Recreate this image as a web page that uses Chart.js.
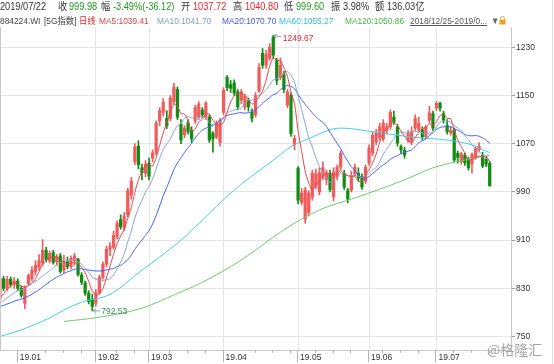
<!DOCTYPE html>
<html>
<head>
<meta charset="utf-8">
<script src="https://cdn.jsdelivr.net/npm/chart.js@4.4.1/dist/chart.umd.min.js"></script>
<style>
  body { margin: 0; background: #fff; }
  #box { position: relative; width: 554px; height: 364px; overflow: hidden; font-family: "Liberation Sans", Arial, "Noto Sans CJK SC", sans-serif; }
  #box canvas { position: absolute; left: 0; top: 0; }
  .h { position: absolute; white-space: nowrap; transform-origin: 0 0; }
  .a { top: 1px; font-size: 10px; line-height: 12px; color: #333; transform: scaleX(.92); }
  .b { top: 15px; font-size: 9.5px; line-height: 11px; color: #444; transform: scaleX(.88); }
  .r { color: #e3262f; }
  .g { color: #1f9a1f; }
  #mark { position: absolute; left: 487px; top: 341px; font-size: 14px; line-height: 16px; color: #a6a6a6; font-family: "Noto Sans CJK SC", sans-serif; }
  #edge { position: absolute; left: 552px; top: 0; width: 1px; height: 364px; background: #dcdcdc; }
</style>
</head>
<body>
<div id="box">
  <canvas id="c" width="554" height="364"></canvas>

  <span class="h a" style="left:0">2019/07/22</span>
  <span class="h a" style="left:58px">收</span>
  <span class="h a g" style="left:69px">999.98</span>
  <span class="h a" style="left:101px">幅</span>
  <span class="h a g" style="left:113px">-3.49%(-36.12)</span>
  <span class="h a" style="left:181px">开</span>
  <span class="h a r" style="left:193px">1037.72</span>
  <span class="h a" style="left:233px">高</span>
  <span class="h a r" style="left:245px">1040.80</span>
  <span class="h a" style="left:284px">低</span>
  <span class="h a g" style="left:296px">999.60</span>
  <span class="h a" style="left:331px">振</span>
  <span class="h a" style="left:343px">3.98%</span>
  <span class="h a" style="left:375px">额</span>
  <span class="h a" style="left:387px">136.03亿</span>

  <span class="h b" style="left:0">884224.WI</span>
  <span class="h b" style="left:44px">[5G指数]</span>
  <span class="h b" style="left:79px;color:#e3262f">日线</span>
  <span class="h b" style="left:99px;color:#e2434b">MA5:1039.41</span>
  <span class="h b" style="left:157px;color:#7d9cc8">MA10:1041.70</span>
  <span class="h b" style="left:222px;color:#3a5af2">MA20:1070.70</span>
  <span class="h b" style="left:279px;color:#2fbfe2">MA60:1055.27</span>
  <span class="h b" style="left:345px;color:#45b845">MA120:1050.86</span>
  <span class="h b" style="left:410px;color:#555;text-decoration:underline">2018/12/25-2019/0...</span>
  <span class="h b" style="left:491px;color:#666">▼</span>
  <svg style="position:absolute;left:499px;top:16px" width="7" height="9" viewBox="0 0 7 9">
    <path d="M1.5 4 V2.5 A2 2 0 0 1 5.5 2.5 V4" fill="none" stroke="#f0a020" stroke-width="1"/>
    <rect x="0.5" y="4" width="6" height="4.5" fill="#f0a020"/>
  </svg>

  <div id="mark">@格隆汇</div>
  <div id="edge"></div>
</div>

<script>
// trading days 2018/12/25 .. 2019/07/22, index 0 = 12/25
const opens = [812,846,830,845,836,842,830,805,838,846,
  858,866,872,893,876,889,874,884,860,874,
  866,876,878,852,839,822,812,805,823,848,
  870,895,898,915,944,930,952,985,1040,1066,
  1030,1021,1038,1046,1056,1108,1122,1112,1112,1140,
  1160,1102,1085,1105,1092,1108,1114,1126,1114,1114,
  1087,1081,1072,1122,1180,1168,1171,1156,1142,1131,
  1142,1122,1118,1158,1220,1200,1212,1247,1208,1180,
  1185,1134,1150,1068,1029,972,945,956,981,1000,
  990,1015,1010,1021,982,1015,1031,1021,992,993,
  1020,1021,1015,1008,1038,1054,1073,1081,1078,1092,
  1098,1114,1098,1065,1059,1076,1073,1096,1093,1093,
  1081,1109,1120,1129,1137,1120,1100,1088,1093,1054,
  1040,1051,1044,1036,1048,1060,1051,1044,1037.72];
const highs = [852,850,850,849,848,846,834,834,854,866,
  876,886,911,898,892,893,886,888,885,882,
  884,888,880,856,842,826,820,828,852,874,
  900,906,925,942,952,956,996,1014,1070,1075,
  1036,1042,1046,1060,1108,1130,1145,1125,1150,1170,
  1164,1110,1100,1110,1098,1134,1140,1130,1140,1118,
  1090,1108,1112,1163,1183,1175,1176,1160,1160,1152,
  1146,1128,1155,1203,1228,1225,1236,1249.67,1212,1212,
  1190,1160,1154,1084,1032,996,998,992,1026,1028,
  1030,1040,1026,1026,1030,1035,1058,1026,996,1024,
  1036,1030,1020,1035,1068,1090,1094,1104,1110,1104,
  1126,1124,1102,1068,1064,1092,1098,1118,1114,1098,
  1100,1132,1124,1140,1139,1124,1110,1098,1096,1058,
  1056,1054,1048,1055,1065,1072,1056,1048,1040.80];
const lows = [808,826,826,832,830,826,815,796,835,842,
  852,860,868,874,872,870,868,855,856,862,
  862,868,850,836,818,804,792.53,800,820,845,
  866,884,895,912,928,926,948,978,1035,1028,
  1010,1015,1010,1040,1052,1100,1116,1095,1108,1135,
  1110,1070,1080,1086,1072,1104,1110,1114,1110,1072,
  1056,1078,1066,1118,1158,1155,1150,1126,1136,1126,
  1124,1106,1114,1155,1195,1195,1208,1212,1168,1176,
  1155,1130,1082,1060,970,968,938,950,976,995,
  985,1010,1002,990,975,1010,1026,994,972,990,
  1016,1008,994,1004,1034,1050,1068,1076,1074,1086,
  1094,1102,1066,1054,1046,1072,1068,1092,1090,1076,
  1078,1104,1092,1125,1124,1104,1086,1084,1040,1038,
  1036,1034,1026,1021,1044,1056,1030,1032,999.60];
const closes = [846,830,845,836,842,830,818,832,851,860,
  868,876,893,878,888,873,882,858,874,866,
  880,884,853,840,822,808,800,823,848,870,
  895,900,918,938,932,950,992,1008,1065,1035,
  1022,1036,1016,1055,1104,1125,1139,1100,1146,1164,
  1114,1076,1096,1090,1078,1130,1136,1118,1137,1076,
  1078,1104,1108,1159,1163,1162,1154,1131,1156,1148,
  1131,1112,1150,1197,1200,1218,1230,1217,1175,1200,
  1160,1156,1087,1079,976,988,993,988,1021,1020,
  1022,1030,1021,994,1023,1031,1054,998,978,1018,
  1031,1013,998,1031,1063,1084,1088,1098,1104,1098,
  1122,1106,1071,1060,1051,1087,1090,1112,1104,1081,
  1098,1121,1096,1137,1129,1109,1090,1092,1043,1047,
  1053,1038,1030,1052,1062,1066,1033,1036.10,999.98];
// closes before 12/25, estimated from where the short averages start
const prevCloses = [800,798,795,792,790,788,790,793,796,798,800,797,795,797,800,802,805,808,812];

// long averages at a few trading-day indexes
const ma60Idx = [0,6,14,18,23,31,40,45,51,57,65,72,76,82,86,96,106,116,126,133,138];
const ma60Val = [750,761,781,794,807,820,860,882,910,943,988,1021,1038,1065,1076,1096,1089,1081,1076,1068,1055.27];
const ma120Idx = [18,28,40,49,57,68,80,90,100,114,122,127,138];
const ma120Val = [775,782,797,819,840,877,927,960,980,1010,1030,1038,1050.86];

const monthTickIdx = [5,27,42,63,84,104,123];
const monthLabels = ['19.01','19.02','19.03','19.04','19.05','19.06','19.07'];
const weekTickIdx = [13,18,23,33,38,48,53,58,72,77,82,89,94,99,108,113,118,128,133,138];
const yTicks = [750,830,910,990,1070,1150,1230];

const allCloses = prevCloses.concat(closes);
function movingAvg(n) {
  return closes.map((c, i) => {
    const j = i + prevCloses.length;
    const win = allCloses.slice(Math.max(0, j - n + 1), j + 1);
    return { x: i, y: win.reduce((s, v) => s + v, 0) / win.length };
  });
}

const candleCol = closes.map((c, i) => c >= opens[i] ? '#f25b5b' : '#128c12');

const extras = {
  id: 'extras',
  afterDatasetsDraw(chart) {
    const { ctx, chartArea: a, scales: { x, y } } = chart;
    ctx.save();
    ctx.lineWidth = 1;
    ctx.strokeStyle = '#c8c8c8';
    ctx.beginPath();
    ctx.moveTo(a.left + 0.5, a.top);
    ctx.lineTo(a.left + 0.5, a.bottom);
    ctx.stroke();

    ctx.strokeStyle = '#b4b4b4';
    ctx.beginPath();
    monthTickIdx.forEach(i => {
      const px = Math.round(x.getPixelForValue(i)) - 0.5;
      ctx.moveTo(px, a.bottom);
      ctx.lineTo(px, a.bottom + 12);
    });
    weekTickIdx.forEach(i => {
      const px = Math.round(x.getPixelForValue(i)) - 0.5;
      ctx.moveTo(px, a.bottom);
      ctx.lineTo(px, a.bottom + 3);
    });
    ctx.stroke();

    // highest high and lowest low markers
    let hi = 0, lo = 0;
    highs.forEach((v, i) => { if (v > highs[hi]) hi = i; });
    lows.forEach((v, i) => { if (v < lows[lo]) lo = i; });
    ctx.font = '8.5px "Liberation Sans", Arial, sans-serif';
    ctx.textBaseline = 'middle';
    ctx.strokeStyle = '#7f9fc6';

    let px = x.getPixelForValue(hi), py = y.getPixelForValue(highs[hi]);
    ctx.beginPath();
    ctx.moveTo(px + 1, py); ctx.lineTo(px + 8, py + 1.5);
    ctx.moveTo(px + 1, py); ctx.lineTo(px + 3.5, py - 1.5);
    ctx.moveTo(px + 1, py); ctx.lineTo(px + 2.5, py + 2.5);
    ctx.stroke();
    ctx.fillStyle = '#e3262f';
    ctx.fillText(highs[hi].toFixed(2), px + 9.5, py + 3);

    px = x.getPixelForValue(lo); py = y.getPixelForValue(lows[lo]);
    ctx.beginPath();
    ctx.moveTo(px + 1, py); ctx.lineTo(px + 8, py);
    ctx.moveTo(px + 1, py); ctx.lineTo(px + 3.5, py - 2);
    ctx.moveTo(px + 1, py); ctx.lineTo(px + 3.5, py + 2);
    ctx.stroke();
    ctx.fillStyle = '#3d8a55';
    ctx.fillText(lows[lo].toFixed(2), px + 9, py + 0.5);
    ctx.restore();
  }
};

const lineSet = (label, data, color, smooth) => ({
  type: 'line', label, data, borderColor: color, borderWidth: 1,
  pointRadius: 0, fill: false, order: 0,
  tension: smooth ? 0.4 : 0.2,
  cubicInterpolationMode: smooth ? 'monotone' : 'default'
});

new Chart(document.getElementById('c'), {
  type: 'bar',
  data: {
    datasets: [
      lineSet('MA5', movingAvg(5), '#e8434b', false),
      lineSet('MA10', movingAvg(10), '#86a5d0', false),
      lineSet('MA20', movingAvg(20), '#3d5ef5', false),
      lineSet('MA60', ma60Idx.map((d, i) => ({ x: d, y: ma60Val[i] })), '#40cfee', true),
      lineSet('MA120', ma120Idx.map((d, i) => ({ x: d, y: ma120Val[i] })), '#6dcc6d', true),
      {
        type: 'bar', label: 'range', order: 2, grouped: false,
        data: closes.map((c, i) => ({ x: i, y: [lows[i], highs[i]] })),
        backgroundColor: candleCol, barThickness: 1, borderWidth: 0
      },
      {
        type: 'bar', label: 'body', order: 1, grouped: false,
        data: closes.map((c, i) => ({ x: i, y: [opens[i], c] })),
        backgroundColor: candleCol, barThickness: 2.6, minBarLength: 1, borderWidth: 0
      }
    ]
  },
  options: {
    responsive: false,
    animation: false,
    layout: { padding: { top: 27, left: 0, right: 0, bottom: 0 } },
    plugins: { legend: { display: false }, tooltip: { enabled: false } },
    scales: {
      x: {
        type: 'linear', min: 0, max: 144, offset: false,
        afterBuildTicks: s => { s.ticks = monthTickIdx.map(v => ({ value: v })); },
        afterFit: s => { s.height = 14; },
        grid: {
          offset: false, drawTicks: false,
          color: c => (c.tick && c.tick.value === 5) ? 'rgba(0,0,0,0)' : '#e6e6e6'
        },
        border: { color: '#c8c8c8' },
        ticks: {
          autoSkip: false, maxRotation: 0, align: 'start', labelOffset: 2, padding: 3,
          color: '#333', font: { size: 8.5, family: '"Liberation Sans", Arial, sans-serif' },
          callback: (v, i) => monthLabels[i]
        }
      },
      y: {
        position: 'right', min: 727.6, max: 1263.7,
        afterBuildTicks: s => { s.ticks = yTicks.map(v => ({ value: v })); },
        afterFit: s => { s.width = 43; },
        grid: { color: '#e6e6e6', tickLength: 4, tickColor: '#a0a0a0' },
        border: { color: '#c8c8c8' },
        ticks: {
          padding: 1, color: '#333',
          font: { size: 8.5, family: '"Liberation Sans", Arial, sans-serif' },
          callback: v => String(v)
        }
      }
    }
  },
  plugins: [extras]
});
</script>
</body>
</html>
